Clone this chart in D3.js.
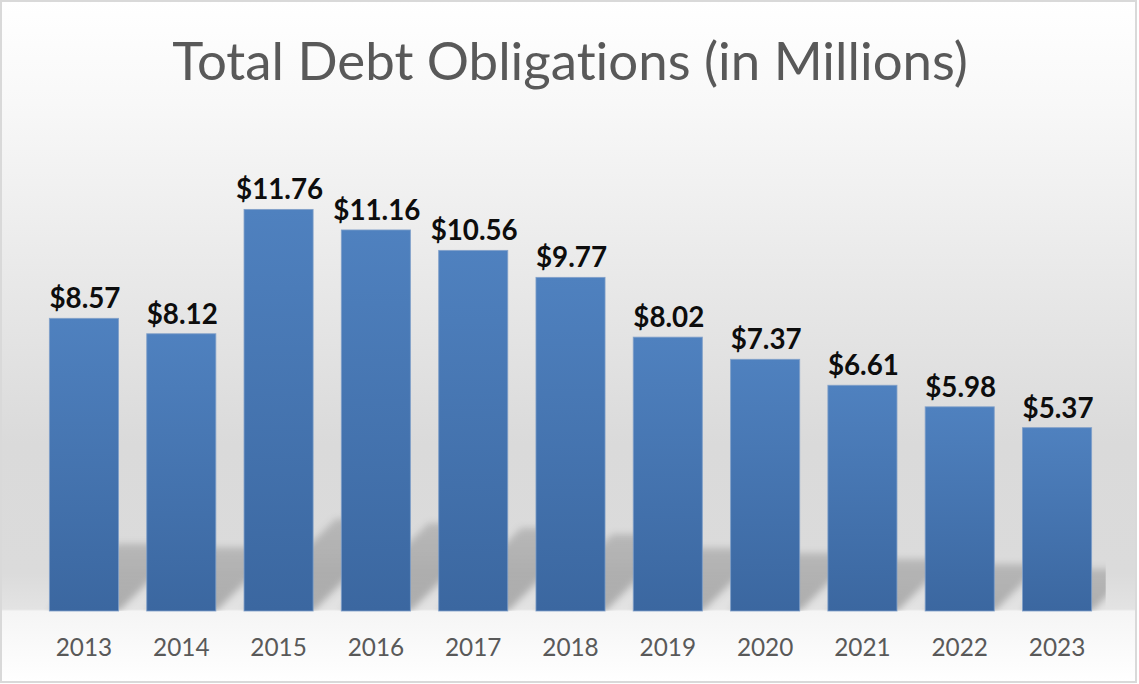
<!DOCTYPE html>
<html>
<head>
<meta charset="utf-8">
<script src="https://cdn.jsdelivr.net/npm/d3@7"></script>
<style>
  html, body { margin: 0; padding: 0; background: #ffffff; }
  svg { display: block; }
  text { font-variant-ligatures: none; font-feature-settings: "liga" 0, "clig" 0; }
</style>
</head>
<body>
<svg id="chart" width="1139" height="684"></svg>
<script>
// Chart data
const years = ["2013", "2014", "2015", "2016", "2017", "2018", "2019", "2020", "2021", "2022", "2023"];
const debt = [8.57, 8.12, 11.76, 11.16, 10.56, 9.77, 8.02, 7.37, 6.61, 5.98, 5.37];
const yDomain = [0, 14];
const titleText = "Total Debt Obligations (in Millions)";

const W = 1139, H = 684;
const plot = { left: 35.3, right: 1105.7, top: 133, bottom: 611 };

const svg = d3.select("#chart");
const defs = svg.append("defs");

// Chart-area background gradient
const bg = defs.append("linearGradient").attr("id", "bgGrad")
  .attr("x1", 0).attr("y1", 0).attr("x2", 0).attr("y2", 1);
[[0, "#ffffff"], [0.15, "#f8f8f8"], [0.45, "#e6e6e6"], [0.65, "#dadada"],
 [0.84, "#dbdbdb"], [0.893, "#e3e3e3"], [0.896, "#f5f5f5"], [1, "#ffffff"]]
  .forEach(([o, c]) => bg.append("stop").attr("offset", o).attr("stop-color", c));

// Bar fill gradient
const barGrad = defs.append("linearGradient").attr("id", "barGrad")
  .attr("x1", 0).attr("y1", 0).attr("x2", 0).attr("y2", 1);
barGrad.append("stop").attr("offset", 0).attr("stop-color", "#4f81bf");
barGrad.append("stop").attr("offset", 1).attr("stop-color", "#3b67a0");

// Shadow fades as it recedes from the bar base
const shadowGrad = defs.append("linearGradient").attr("id", "shadowGrad")
  .attr("x1", 0).attr("y1", 1).attr("x2", 0).attr("y2", 0);
shadowGrad.append("stop").attr("offset", 0).attr("stop-color", "#000").attr("stop-opacity", 0.24);
shadowGrad.append("stop").attr("offset", 1).attr("stop-color", "#000").attr("stop-opacity", 0.16);

// Soft shadow blur
defs.append("filter").attr("id", "shadowBlur")
  .attr("x", "-20%").attr("y", "-30%").attr("width", "140%").attr("height", "160%")
  .append("feGaussianBlur").attr("stdDeviation", 3.5);

defs.append("clipPath").attr("id", "plotClip")
  .append("rect")
  .attr("x", plot.left).attr("y", plot.top - 200)
  .attr("width", plot.right - plot.left).attr("height", plot.bottom - plot.top + 200);

// Background and border
svg.append("rect").attr("x", 1).attr("y", 1).attr("width", 1135).attr("height", 681)
  .attr("fill", "url(#bgGrad)").attr("stroke", "#d9d9d9").attr("stroke-width", 2);

// Scales
const x = d3.scaleBand().domain(years).range([plot.left, plot.right])
  .paddingInner(0.28).paddingOuter(0.14);
const y = d3.scaleLinear().domain(yDomain).range([plot.bottom, plot.top]);

const rows = years.map((yr, i) => ({ year: yr, value: debt[i] }));

// Perspective shadows cast up and to the right behind each bar
const shadowScale = 0.23, skew = 1.0;
svg.append("g").attr("clip-path", "url(#plotClip)")
  .selectAll("path").data(rows).join("path")
  .attr("d", d => {
    const x0 = x(d.year), x1 = x0 + x.bandwidth();
    const h = (y(0) - y(d.value)) * shadowScale;
    const b = y(0);
    return `M${x0},${b} L${x1},${b} L${x1 + skew * h},${b - h} L${x0 + skew * h},${b - h} Z`;
  })
  .attr("fill", "url(#shadowGrad)")
  .attr("filter", "url(#shadowBlur)");

// Bars
svg.append("g").selectAll("rect").data(rows).join("rect")
  .attr("x", d => x(d.year) + 0.5)
  .attr("y", d => y(d.value))
  .attr("width", x.bandwidth() - 1)
  .attr("height", d => y(0) - y(d.value))
  .attr("fill", "url(#barGrad)")
  .attr("stroke", "#7d9dc8").attr("stroke-width", 1).attr("stroke-opacity", 0.8);

// Fit a font size so a string spans the requested width
function fitSize(text, family, weight, targetWidth) {
  const probe = svg.append("text").text(text)
    .attr("font-family", family).attr("font-weight", weight).attr("font-size", 100);
  const w = probe.node().getComputedTextLength();
  probe.remove();
  return 100 * targetWidth / w;
}

const family = "Lato, 'Open Sans', sans-serif";

// Value labels
const labelSize = fitSize("$8.57", family, 700, 71);
svg.append("g").selectAll("text").data(rows).join("text")
  .attr("x", d => x(d.year) + x.bandwidth() / 2 + 1)
  .attr("y", d => y(d.value) - 10)
  .attr("text-anchor", "middle")
  .attr("font-family", family).attr("font-weight", 700)
  .attr("font-size", labelSize).attr("fill", "#0d0d0d")
  .text(d => "$" + d3.format(".2f")(d.value));

// Category axis
const tickSize = fitSize("2013", family, 400, 56.5);
const axis = svg.append("g").attr("transform", `translate(0,${plot.bottom})`)
  .call(d3.axisBottom(x).tickSize(0).tickPadding(0));
axis.select(".domain").remove();
axis.selectAll("text")
  .attr("y", 45).attr("dy", null)
  .attr("font-family", family).attr("font-size", tickSize)
  .attr("fill", "#595959");

// Title
const titleSize = fitSize(titleText, family, 400, 796);
svg.append("text").attr("x", 570).attr("y", 80)
  .attr("text-anchor", "middle")
  .attr("font-family", family).attr("font-size", titleSize)
  .attr("fill", "#595959")
  .text(titleText);
</script>
</body>
</html>
